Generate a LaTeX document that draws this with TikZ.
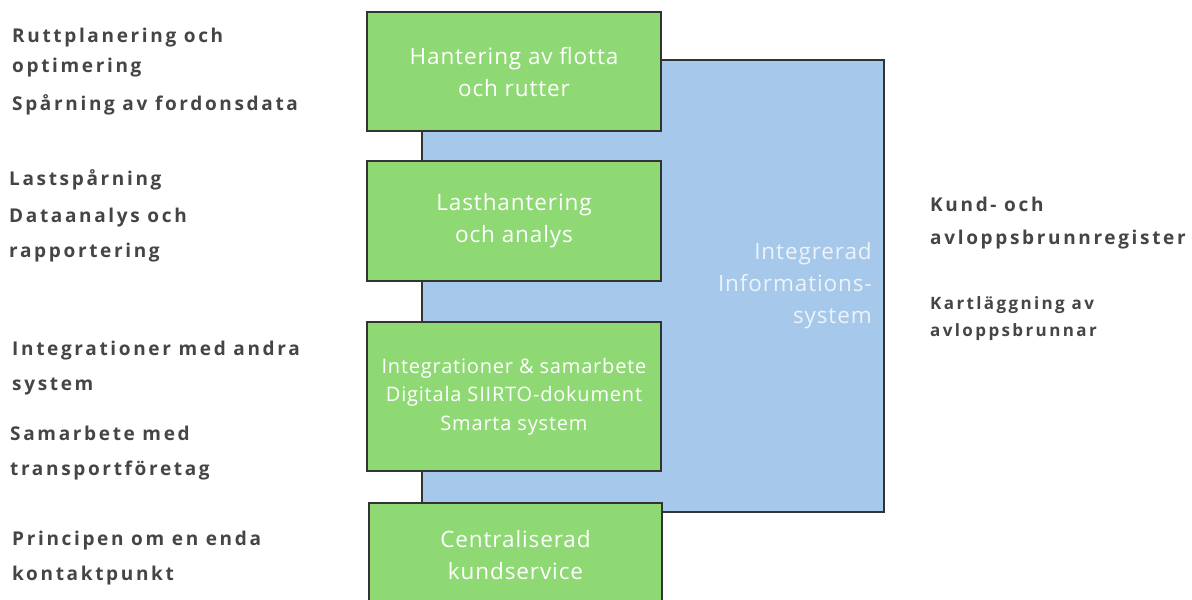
\documentclass[tikz,border=0pt]{standalone}
\usepackage{fontspec}
\setmainfont[LetterSpace=4]{Open Sans}
\newfontfamily\lblfont[LetterSpace=14]{Open Sans}
\definecolor{boxgreen}{HTML}{8FD974}
\definecolor{boxblue}{HTML}{A6C8EA}
\definecolor{edgegray}{HTML}{333333}
\definecolor{lblgray}{HTML}{454545}
\definecolor{infotxt}{HTML}{EEF3FA}
\tikzset{
  greenbox/.style={draw=edgegray, line width=1.3pt, fill=boxgreen, text=white, align=center, inner sep=0pt},
  bluebox/.style={draw=edgegray, line width=1.2pt, fill=boxblue, inner sep=0pt},
  lbl/.style={anchor=base west, inner sep=0pt, text=lblgray, font=\lblfont\bfseries\fontsize{19}{19}\selectfont},
  lblsmall/.style={lbl, font=\lblfont\bfseries\fontsize{17}{17}\selectfont}
}
\begin{document}
\begin{tikzpicture}[x=1pt,y=-1pt]
\clip (0,0) rectangle (1192,600);
\fill[white] (0,0) rectangle (1192,600);
% blue background box
\node[bluebox, minimum width=462pt, minimum height=452pt] (info) at (653,286) {};
\node[anchor=east, align=right, text=infotxt, inner sep=0pt, font=\fontsize{22.5}{32}\selectfont] (infotext) at (872,286) {Integrerad\\Informations-\\system};
% green boxes
\node[greenbox, minimum width=294pt, minimum height=119pt, font=\fontsize{22.5}{32}\selectfont] (fleet) at (514,71.5) {Hantering av flotta\\och rutter};
\node[greenbox, minimum width=294pt, minimum height=120pt, font=\fontsize{22.5}{32}\selectfont] (cargo) at (514,221) {Lasthantering\\och analys};
\node[greenbox, minimum width=294pt, minimum height=149pt, font=\fontsize{20}{28.5}\selectfont] (integ) at (514,396.5) {Integrationer \& samarbete\\Digitala SIIRTO-dokument\\Smarta system};
\node[greenbox, minimum width=293pt, minimum height=104pt, font=\fontsize{22.5}{32}\selectfont] (service) at (515.5,555) {Centraliserad\\kundservice};
% left labels
\node[lbl] (l1a) at (12,42) {Ruttplanering och};
\node[lbl] (l1b) at (12,72) {optimering};
\node[lbl] (l1c) at (12,110) {Spårning av fordonsdata};
\node[lbl] (l2a) at (9,185) {Lastspårning};
\node[lbl] (l2b) at (9,222) {Dataanalys och};
\node[lbl] (l2c) at (9,257) {rapportering};
\node[lbl] (l3a) at (12,355) {Integrationer med andra};
\node[lbl] (l3b) at (12,390) {system};
\node[lbl] (l3c) at (10,440) {Samarbete med};
\node[lbl] (l3d) at (10,475) {transportföretag};
\node[lbl] (l4a) at (12,545) {Principen om en enda};
\node[lbl] (l4b) at (12,580) {kontaktpunkt};
% right labels
\node[lbl] (r1a) at (930,211) {Kund- och};
\node[lbl] (r1b) at (930,244) {avloppsbrunnregister};
\node[lblsmall] (r2a) at (930,309) {Kartläggning av};
\node[lblsmall] (r2b) at (930,336) {avloppsbrunnar};
\end{tikzpicture}
\end{document}
